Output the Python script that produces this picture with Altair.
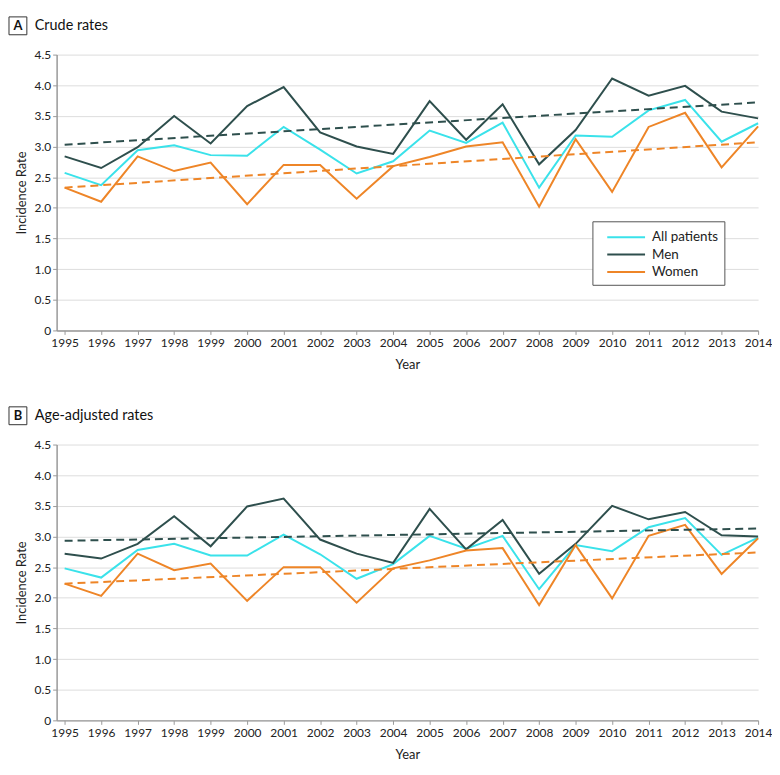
import altair as alt
import pandas as pd

years = list(range(1995, 2015))
series = ["All patients", "Men", "Women"]
colors = ["#3AE2EA", "#2E4F4D", "#EE8527"]

crude_all = [2.57, 2.37, 2.94, 3.02, 2.86, 2.85, 3.32, 2.95, 2.56, 2.76,
             3.26, 3.06, 3.39, 2.33, 3.18, 3.16, 3.59, 3.76, 3.08, 3.38]
crude_men = [2.84, 2.65, 2.99, 3.50, 3.05, 3.66, 3.97, 3.23, 3.00, 2.88,
             3.74, 3.11, 3.69, 2.71, 3.27, 4.11, 3.83, 3.99, 3.57, 3.46]
crude_women = [2.33, 2.10, 2.84, 2.60, 2.74, 2.06, 2.70, 2.70, 2.15, 2.68,
               2.83, 3.00, 3.07, 2.02, 3.12, 2.26, 3.32, 3.55, 2.66, 3.33]

adj_all = [2.48, 2.33, 2.78, 2.88, 2.69, 2.69, 3.03, 2.71, 2.31, 2.55,
           3.01, 2.80, 3.01, 2.14, 2.86, 2.76, 3.15, 3.30, 2.70, 2.98]
adj_men = [2.72, 2.64, 2.88, 3.33, 2.84, 3.49, 3.62, 2.95, 2.72, 2.57,
           3.45, 2.79, 3.27, 2.39, 2.88, 3.50, 3.28, 3.40, 3.02, 3.00]
adj_women = [2.23, 2.03, 2.72, 2.45, 2.56, 1.95, 2.50, 2.50, 1.92, 2.48,
             2.61, 2.77, 2.81, 1.88, 2.86, 1.99, 3.01, 3.19, 2.39, 2.97]

trend_years = [1995, 2014]
crude_men_trend = [3.03, 3.72]
crude_women_trend = [2.33, 3.07]
adj_men_trend = [2.93, 3.13]
adj_women_trend = [2.23, 2.74]

y_ticks = [0, 0.5, 1.0, 1.5, 2.0, 2.5, 3.0, 3.5, 4.0, 4.5]

FONT = "Lato"
W, H = 707, 278


def panel(letter, title, all_, men, women, men_tr, women_tr, show_legend):
    rows = []
    for name, vals in zip(series, [all_, men, women]):
        for yr, v in zip(years, vals):
            rows.append({"year": yr, "rate": v, "group": name})
    df = pd.DataFrame(rows)
    trows = []
    for name, vals in zip(["Men", "Women"], [men_tr, women_tr]):
        for yr, v in zip(trend_years, vals):
            trows.append({"year": yr, "rate": v, "group": name})
    tdf = pd.DataFrame(trows)

    x = alt.X("year:Q",
              scale=alt.Scale(domain=[1994.78, 2014], nice=False, zero=False),
              axis=alt.Axis(values=years, format="d", title="Year", grid=False,
                            labelOverlap=False, labelFlush=False,
                            tickSize=4, labelPadding=3, titlePadding=10,
                            domainColor="#999", tickColor="#999", domainWidth=1.5))
    y = alt.Y("rate:Q",
              scale=alt.Scale(domain=[0, 4.5], nice=False),
              axis=alt.Axis(values=y_ticks, title="Incidence Rate",
                            labelExpr="datum.value == 0 ? '0' : format(datum.value, '.1f')",
                            grid=True, gridColor="#DDDDDD", gridWidth=1,
                            labelOverlap=False,
                            tickSize=4, labelPadding=2, titlePadding=6,
                            domainColor="#999", tickColor="#999", domainWidth=1.5))
    if show_legend:
        legend = alt.Legend(title=None, orient="none", legendX=540, legendY=168,
                            symbolType="M-2.2,0H2.2", symbolSize=300, symbolStrokeWidth=2,
                            symbolOffset=18, labelOffset=16,
                            labelFontSize=13.5, labelFont=FONT, labelColor="#222",
                            strokeColor="#555", fillColor="white", padding=6,
                            rowPadding=0.5)
    else:
        legend = None
    color = alt.Color("group:N", scale=alt.Scale(domain=series, range=colors), legend=legend)

    lines = alt.Chart(df).mark_line(strokeWidth=2).encode(x=x, y=y, color=color)
    trends = alt.Chart(tdf).mark_line(strokeWidth=2, strokeDash=[8, 5]).encode(
        x=x, y=y,
        color=alt.Color("group:N", scale=alt.Scale(domain=series, range=colors), legend=None))

    deco = pd.DataFrame({"t": [title], "l": [letter]})
    box = alt.Chart(deco).mark_rect(fill="white", stroke="#333", strokeWidth=1).encode(
        x=alt.value(-48), x2=alt.value(-30), y=alt.value(-38), y2=alt.value(-20))
    let = alt.Chart(deco).mark_text(fontSize=13, fontWeight="bold", font=FONT,
                                    color="#111", align="center", baseline="middle").encode(
        x=alt.value(-39), y=alt.value(-29), text="l:N")
    ttl = alt.Chart(deco).mark_text(fontSize=14.5, font=FONT, color="#111",
                                    align="left", baseline="middle").encode(
        x=alt.value(-22), y=alt.value(-29), text="t:N")

    return alt.layer(lines, trends, box, let, ttl).properties(width=W, height=H)


a = panel("A", "Crude rates", crude_all, crude_men, crude_women,
          crude_men_trend, crude_women_trend, True)
b = panel("B", "Age-adjusted rates", adj_all, adj_men, adj_women,
          adj_men_trend, adj_women_trend, False)

chart = alt.vconcat(a, b, spacing=35).resolve_scale(color="independent").properties(
    padding={"left": 0, "top": 5, "right": 0, "bottom": 0}
).configure_view(stroke=None).configure_axis(
    labelFont=FONT, titleFont=FONT, labelFontSize=12, titleFontSize=13,
    labelColor="#222", titleColor="#222", titleFontWeight="normal"
)

chart.save("out.html", embed_options={"renderer": "svg", "actions": False})
